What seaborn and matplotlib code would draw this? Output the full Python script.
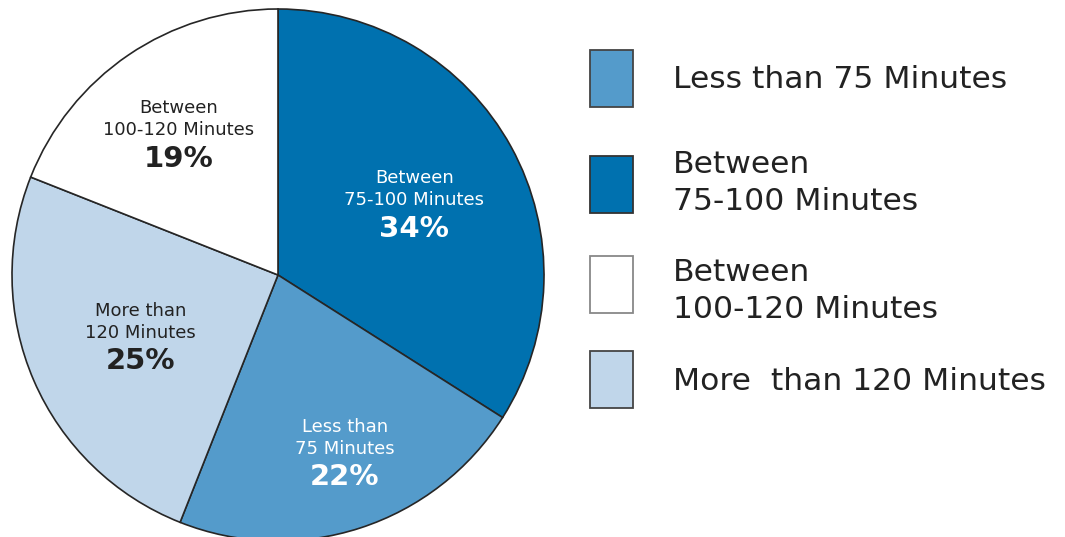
import matplotlib
matplotlib.use("Agg")
import matplotlib.pyplot as plt
import numpy as np
import seaborn as sns
from matplotlib.patches import Rectangle

sns.set_theme(style="white")
plt.rcParams["font.family"] = ["DejaVu Sans"]

# Share of runs by duration, listed clockwise from 12 o'clock
slice_lines = [["Between", "75-100 Minutes"],
               ["Less than", "75 Minutes"],
               ["More than", "120 Minutes"],
               ["Between", "100-120 Minutes"]]
shares = [34, 22, 25, 19]
slice_colors = ["#0071AF", "#549BCB", "#C0D6EA", "#FFFFFF"]
label_colors = ["white", "white", "#222222", "#222222"]

# Legend entries (top to bottom)
legend_labels = ["Less than 75 Minutes", "Between\n75-100 Minutes",
                 "Between\n100-120 Minutes", "More  than 120 Minutes"]
legend_colors = ["#549BCB", "#0071AF", "#FFFFFF", "#C0D6EA"]
legend_edges = ["#444444", "#333333", "#888888", "#444444"]

W, H = 1065, 537
fig = plt.figure(figsize=(W / 100, H / 100), dpi=100)
ax = fig.add_axes([0, 0, 1, 1])
ax.set_xlim(0, W)
ax.set_ylim(0, H)
ax.set_aspect("equal")
ax.axis("off")

cx, cy, R = 278, H - 275, 266
wedges, _ = ax.pie(shares, colors=slice_colors, startangle=90, counterclock=False,
                   center=(cx, cy), radius=R, frame=True,
                   wedgeprops=dict(edgecolor="#262626", linewidth=1.2))
ax.set_xlim(0, W)
ax.set_ylim(0, H)
ax.axis("off")

# Radial placement of the in-slice labels
label_radius = [0.585, 0.70, 0.56, 0.66]
label_turn = [0, 3, -0.5, 0.4]
for w, lines, pct, col, rf, dt in zip(wedges, slice_lines, shares, label_colors,
                                      label_radius, label_turn):
    mid = np.deg2rad((w.theta1 + w.theta2) / 2 + dt)
    x = cx + rf * R * np.cos(mid)
    y = cy + rf * R * np.sin(mid)
    ax.text(x, y + 22, lines[0], ha="center", va="center", fontsize=13, color=col)
    ax.text(x, y, lines[1], ha="center", va="center", fontsize=13, color=col)
    ax.text(x, y - 28.5, f"{pct}%", ha="center", va="center", fontsize=21,
            fontweight="bold", color=col)

# Legend: tall swatches with labels to the right
sw_top = [50, 156, 256, 351]
txt_mid = [79, 183, 291, 381]
for top, mid, lab, fc, ec in zip(sw_top, txt_mid, legend_labels, legend_colors, legend_edges):
    ax.add_patch(Rectangle((590, H - top - 57), 43, 57, facecolor=fc, edgecolor=ec,
                           linewidth=1.3, clip_on=False))
    ax.text(673, H - mid, lab, ha="left", va="center", fontsize=22.6,
            color="#222222", linespacing=1.38)

fig.savefig("out.png", dpi=100)
